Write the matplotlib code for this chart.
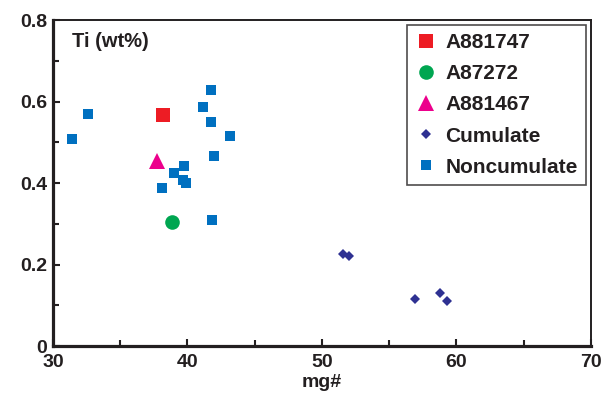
import matplotlib
matplotlib.use("Agg")
import matplotlib.pyplot as plt
from matplotlib.ticker import MultipleLocator

plt.rcParams['font.family'] = ['Liberation Sans', 'DejaVu Sans']
plt.rcParams['font.weight'] = 'bold'

# Data
a881747_x = [38.18]
a881747_y = [0.568]
a87272_x = [38.87]
a87272_y = [0.304]
a881467_x = [37.73]
a881467_y = [0.455]
cumulate_x = [51.58, 52.0, 56.94, 58.8, 59.29]
cumulate_y = [0.226, 0.220, 0.116, 0.129, 0.110]
noncum_x = [31.43, 32.62, 41.77, 41.13, 41.72, 43.18, 41.97, 39.76, 39.02, 39.69, 39.91, 38.13, 41.84]
noncum_y = [0.508, 0.569, 0.628, 0.587, 0.550, 0.515, 0.466, 0.442, 0.425, 0.407, 0.400, 0.388, 0.309]

fig = plt.figure(figsize=(6.06, 4.01), dpi=100)
ax = fig.add_axes([0.0875, 0.137, 0.8875, 0.813])

ax.plot(a881747_x, a881747_y, 's', color='#ED1C24', ms=10, mew=0, label='A881747', zorder=3)
ax.plot(a87272_x, a87272_y, 'o', color='#00A651', ms=10.5, mew=0, label='A87272', zorder=3)
ax.plot(a881467_x, a881467_y, '^', color='#EC008C', ms=11, mew=0, label='A881467', zorder=3)
ax.plot(cumulate_x, cumulate_y, 'D', color='#2E3192', ms=5, mew=0, label='Cumulate', zorder=3)
ax.plot(noncum_x, noncum_y, 's', color='#0070C0', ms=7, mew=0, label='Noncumulate', zorder=3)

ax.set_xlim(30, 70)
ax.set_ylim(0, 0.8)
ax.xaxis.set_major_locator(MultipleLocator(10))
ax.xaxis.set_minor_locator(MultipleLocator(5))
ax.yaxis.set_major_locator(MultipleLocator(0.2))
ax.yaxis.set_minor_locator(MultipleLocator(0.1))
ax.yaxis.set_major_formatter(matplotlib.ticker.FuncFormatter(lambda v, p: '0' if abs(v) < 1e-9 else f'{v:.1f}'))

ax.tick_params(which='both', direction='in', labelsize=14, width=1.5, color='#231F20', labelcolor='#231F20')
ax.tick_params(which='major', length=5)
ax.tick_params(which='minor', length=4)
ax.tick_params(axis='x', pad=6)
ax.tick_params(axis='y', pad=4)

for s in ['left', 'bottom']:
    ax.spines[s].set_linewidth(2.3)
for s in ['top', 'right']:
    ax.spines[s].set_linewidth(1.4)
for s in ax.spines.values():
    s.set_color('#231F20')

ax.set_xlabel('mg#', fontsize=14, fontweight='bold', color='#231F20', labelpad=2)
ax.text(0.035, 0.935, 'Ti (wt%)', transform=ax.transAxes, fontsize=14.5, fontweight='bold',
        color='#231F20', va='center', ha='left')

leg = ax.legend(loc='upper right', bbox_to_anchor=(0.991, 0.985), borderaxespad=0,
                fontsize=15, frameon=True, fancybox=False, edgecolor='#231F20',
                labelspacing=0.58, handletextpad=0.45, handlelength=1.0, borderpad=0.4,
                numpoints=1, markerscale=1.0)
leg.get_frame().set_linewidth(1.2)
for t in leg.get_texts():
    t.set_color('#231F20')
    t.set_fontweight('bold')

fig.savefig('out.png', dpi=100)
